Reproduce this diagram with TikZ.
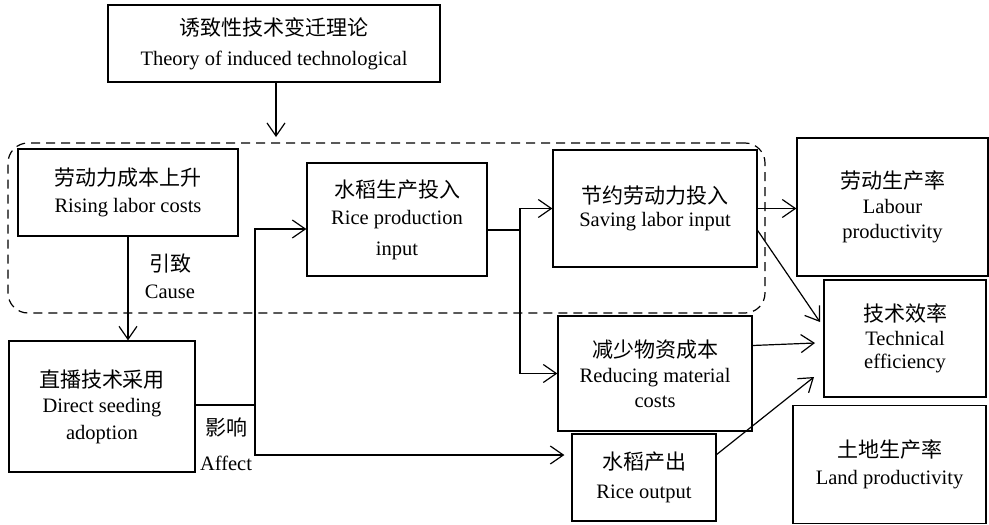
\documentclass[tikz,border=0pt]{standalone}
\usepackage{fontspec}
\setmainfont{Liberation Serif}
\newfontfamily\cjk{Noto Sans CJK SC}
\usetikzlibrary{arrows.meta,calc}
\newcommand{\zh}[1]{{\cjk\fontsize{21}{27}\selectfont #1}}
\begin{document}
\begin{tikzpicture}[x=1pt,y=-1pt,
  box/.style={draw,line width=1.3pt,rectangle,align=center,inner sep=0pt,
    font=\fontsize{20.5}{27}\selectfont},
  conn/.style={line width=1.2pt},
  arr/.style={conn,-{Straight Barb[length=13pt,width=18pt,line width=1.2pt]}},
  lbl/.style={align=center,inner sep=0pt,font=\fontsize{20.5}{27}\selectfont}]
\useasboundingbox (0,0) rectangle (989,525);
\node[draw,dashed,line width=1.2pt,rounded corners=20pt,dash pattern=on 9pt off 6pt,
  minimum width=757pt,minimum height=170pt,inner sep=0pt] (grp) at (386.5,228) {};
\node[box,minimum width=332pt,minimum height=77pt] (top) at (274,43.5)
  {\zh{诱致性技术变迁理论}\\[3pt] Theory of induced technological};
\node[box,minimum width=220pt,minimum height=87pt] (rlc) at (128,192.5)
  {\zh{劳动力成本上升}\\ Rising labor costs};
\node[box,minimum width=180pt,minimum height=113pt] (rpi) at (397,219.5)
  {\zh{水稻生产投入}\\ Rice production\\[4pt] input};
\node[box,minimum width=204pt,minimum height=117pt] (sli) at (655,208.5)
  {\zh{节约劳动力投入}\\[-4pt] Saving labor input};
\node[box,minimum width=191pt,minimum height=138pt] (lp) at (892.5,207)
  {\zh{劳动生产率}\\[-2pt] Labour\\[-2pt] productivity};
\node[box,minimum width=162pt,minimum height=117pt] (te) at (905,338.5)
  {\zh{技术效率}\\[-3pt] Technical\\[-4pt] efficiency};
\node[box,minimum width=186pt,minimum height=131pt] (dsa) at (102,406.5)
  {\zh{直播技术采用}\\[-2pt] Direct seeding\\ adoption};
\node[box,minimum width=194pt,minimum height=115pt] (rmc) at (655,373.5)
  {\zh{减少物资成本}\\[-2pt] Reducing material\\[-2pt] costs};
\node[box,minimum width=144pt,minimum height=87pt] (ro) at (644,477.5)
  {\zh{水稻产出}\\[2pt] Rice output};
\node[box,minimum width=193pt,minimum height=118pt] (ldp) at (889.5,464.5)
  {\zh{土地生产率}\\ Land productivity};
\node[lbl] (cause) at (170,276) {\zh{引致}\\ Cause};
\node[lbl] (affect) at (226,444) {\zh{影响}\\[8pt] Affect};
\coordinate (a1) at (276,137);
\coordinate (j1) at (255,405);
\coordinate (j2) at (520,230);
\coordinate (e1) at (820,322);
\coordinate (e2) at (815,343);
\coordinate (e3) at (814,377);
\draw[arr] (top.south -| a1) -- (a1);
\draw[arr] (rlc.south) -- (rlc.south |- dsa.north);
\draw[conn] (dsa.east |- j1) -- (j1);
\draw[arr] (j1) |- ($(rpi.west)+(0,9.5)$);
\draw[arr] (j1) |- ($(ro.west)+(-7,-22.5)$);
\draw[conn] ($(rpi.east)+(0,10.5)$) -- (j2);
\draw[arr] (j2) |- (sli.west);
\draw[arr] (j2) |- (rmc.west);
\draw[arr] (sli.east) -- (sli.east -| lp.west);
\draw[arr] ($(sli.east)+(0,22)$) -- (e1);
\draw[arr] ($(rmc.east)+(0,-28)$) -- (e2);
\draw[arr] ($(ro.east)+(0,-23)$) -- (e3);
\end{tikzpicture}
\end{document}
